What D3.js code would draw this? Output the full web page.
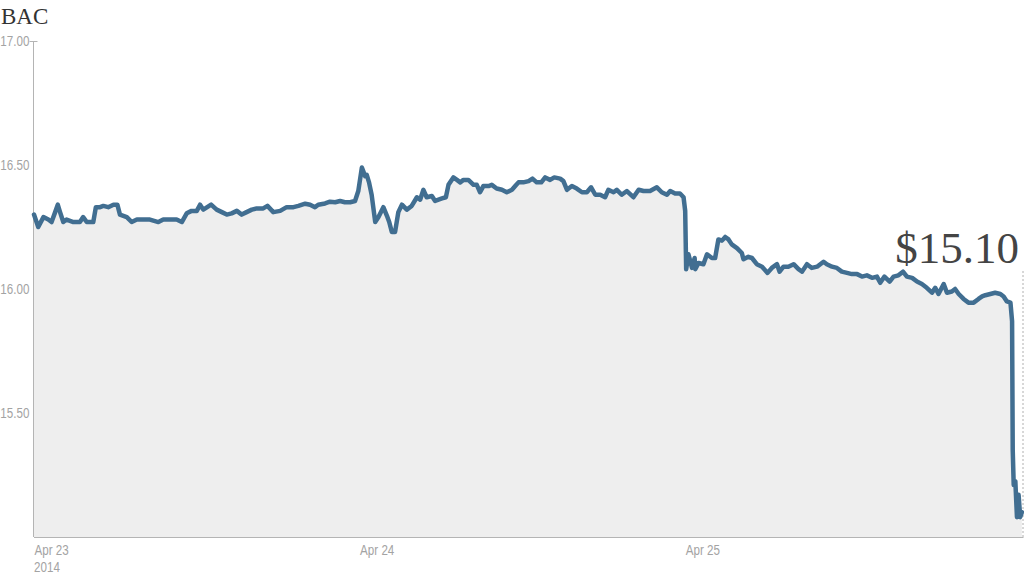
<!DOCTYPE html>
<html>
<head>
<meta charset="utf-8">
<script src="https://cdn.jsdelivr.net/npm/d3@7"></script>
<style>
  html, body { margin: 0; padding: 0; background: #fff; }
  svg { display: block; }
  .tick-label { font-family: "Liberation Sans", Arial, sans-serif; font-size: 14px; fill: #a3a3a3; }
</style>
</head>
<body>
<svg id="chart" width="1024" height="576"></svg>
<script>
// ---- Data ----
const ticker = "BAC";
const lastPriceLabel = "$15.10";
// time in trading days since Apr 23 open
const times = [
  0.000,0.013,0.029,0.044,0.054,0.065,0.073,0.080,0.090,0.100,0.121,0.141,0.151,0.162,0.182,0.190,0.203,0.213,0.228,0.244,
  0.256,0.264,0.285,0.300,0.316,0.336,0.356,0.382,0.397,0.418,0.438,0.454,0.469,0.484,0.500,0.510,0.520,0.544,0.561,0.577,
  0.592,0.607,0.623,0.638,0.653,0.669,0.684,0.704,0.717,0.735,0.756,0.776,0.797,0.812,0.833,0.848,0.863,0.873,0.894,0.909,
  0.925,0.940,0.955,0.971,0.986,0.996,1.007,1.017,1.022,1.029,1.037,1.048,1.058,1.073,1.084,1.091,1.099,1.109,1.119,1.130,
  1.145,1.160,1.176,1.186,1.196,1.206,1.222,1.232,1.253,1.265,1.273,1.288,1.299,1.309,1.319,1.334,1.350,1.360,1.370,1.380,
  1.396,1.406,1.421,1.437,1.452,1.468,1.478,1.488,1.503,1.519,1.531,1.544,1.558,1.570,1.585,1.598,1.616,1.626,1.637,1.652,
  1.667,1.683,1.698,1.711,1.724,1.739,1.754,1.764,1.780,1.790,1.805,1.821,1.841,1.857,1.872,1.892,1.913,1.928,1.944,1.954,
  1.969,1.984,1.995,2.000,2.003,2.010,2.021,2.029,2.031,2.041,2.056,2.067,2.082,2.092,2.102,2.113,2.123,2.133,2.143,2.159,
  2.174,2.179,2.194,2.205,2.220,2.236,2.253,2.266,2.282,2.290,2.302,2.317,2.333,2.348,2.359,2.374,2.389,2.405,2.415,2.425,
  2.435,2.451,2.466,2.481,2.497,2.512,2.528,2.543,2.558,2.574,2.589,2.599,2.612,2.628,2.640,2.655,2.669,2.681,2.697,2.712,
  2.727,2.742,2.758,2.768,2.778,2.794,2.804,2.819,2.829,2.840,2.855,2.870,2.886,2.901,2.912,2.922,2.937,2.952,2.968,2.978,
  2.988,2.999,3.004,3.006,3.009,3.014,3.019,3.024,3.029,3.034
];
const prices = [
  16.30,16.25,16.29,16.28,16.27,16.31,16.34,16.31,16.27,16.28,16.27,16.27,16.29,16.27,16.27,16.33,16.33,16.335,16.33,16.34,
  16.34,16.30,16.29,16.27,16.28,16.28,16.28,16.27,16.28,16.28,16.28,16.27,16.305,16.315,16.315,16.34,16.32,16.34,16.32,16.31,
  16.30,16.305,16.315,16.30,16.31,16.32,16.325,16.325,16.335,16.31,16.315,16.33,16.33,16.335,16.344,16.34,16.33,16.34,16.345,16.352,
  16.35,16.355,16.35,16.35,16.355,16.395,16.49,16.455,16.46,16.43,16.38,16.27,16.29,16.33,16.295,16.27,16.23,16.23,16.31,16.34,
  16.32,16.335,16.37,16.36,16.40,16.37,16.375,16.355,16.365,16.37,16.42,16.45,16.44,16.43,16.44,16.44,16.42,16.42,16.39,16.415,
  16.415,16.42,16.405,16.40,16.39,16.40,16.415,16.43,16.43,16.435,16.445,16.43,16.43,16.45,16.44,16.45,16.445,16.435,16.40,16.415,
  16.405,16.39,16.39,16.41,16.38,16.38,16.37,16.40,16.39,16.40,16.38,16.395,16.37,16.40,16.395,16.395,16.41,16.39,16.38,16.395,
  16.385,16.385,16.37,16.315,16.08,16.14,16.085,16.125,16.08,16.105,16.10,16.14,16.125,16.125,16.20,16.195,16.21,16.20,16.18,16.165,
  16.145,16.12,16.13,16.125,16.10,16.09,16.065,16.085,16.10,16.07,16.09,16.09,16.10,16.08,16.07,16.10,16.085,16.09,16.10,16.11,
  16.10,16.09,16.085,16.07,16.065,16.06,16.06,16.05,16.055,16.045,16.05,16.025,16.05,16.03,16.05,16.055,16.07,16.05,16.045,16.03,
  16.02,16.005,15.985,16.005,15.98,16.02,15.985,15.99,16.00,15.98,15.96,15.945,15.945,15.96,15.97,15.975,15.98,15.985,15.98,15.97,
  15.95,15.945,15.87,15.35,15.21,15.225,15.08,15.17,15.08,15.10
];
const xTickValues = [0, 1, 2];
const xTickLabels = ["Apr 23", "Apr 24", "Apr 25"];
const xTickYear = "2014";
const yTickValues = [17.0, 16.5, 16.0, 15.5];
const xDomain = [0, 3.036];
const yDomain = [15.0, 17.0];

// ---- Layout ----
const svg = d3.select("#chart");
const mLeft = 34, mRight = 1022.5, mTop = 41, mBottom = 537;
const condense = "scale(0.83,1)";

const x = d3.scaleLinear().domain(xDomain).range([mLeft, mRight]);
const y = d3.scaleLinear().domain(yDomain).range([mBottom, mTop]);

const data = times.map((t, i) => ({ t, p: prices[i] }));

// Area fill
const area = d3.area().x(d => x(d.t)).y0(mBottom).y1(d => y(d.p)).curve(d3.curveLinear);
svg.append("path").datum(data).attr("d", area).attr("fill", "#eeeeee");

// Right dotted marker line
svg.append("line")
  .attr("x1", mRight + 0.5).attr("x2", mRight + 0.5)
  .attr("y1", 271).attr("y2", mBottom)
  .attr("stroke", "#b0b0b0").attr("stroke-width", 1).attr("stroke-dasharray", "2,2");

// Axes
const yAxis = d3.axisLeft(y).tickValues(yTickValues).tickSize(0).tickPadding(5)
  .tickFormat(d3.format(".2f"));
const gy = svg.append("g").attr("transform", `translate(${mLeft - 0.5},0)`).call(yAxis);
gy.select(".domain").remove();
gy.selectAll("text").attr("class", "tick-label").attr("font-family", null).attr("font-size", null).attr("fill", null)
  .attr("transform", condense);
gy.append("line").attr("x1", 0).attr("x2", 0).attr("y1", mTop).attr("y2", mBottom)
  .attr("stroke", "#b4b4b4").attr("stroke-width", 1);
gy.append("line").attr("x1", -4).attr("x2", 4).attr("y1", mTop + 0.5).attr("y2", mTop + 0.5)
  .attr("stroke", "#b4b4b4").attr("stroke-width", 1);

const xAxis = d3.axisBottom(x).tickValues(xTickValues).tickSize(0).tickPadding(8)
  .tickFormat((d, i) => xTickLabels[i]);
const gx = svg.append("g").attr("transform", `translate(0,${mBottom + 0.5})`).call(xAxis);
gx.select(".domain").remove();
gx.selectAll("text").attr("class", "tick-label").attr("font-family", null).attr("font-size", null).attr("fill", null)
  .attr("text-anchor", "start").attr("transform", condense);
gx.append("line").attr("x1", mLeft).attr("x2", mRight + 1).attr("y1", 0).attr("y2", 0)
  .attr("stroke", "#b4b4b4").attr("stroke-width", 1);
gx.append("text").attr("class", "tick-label")
  .attr("transform", `translate(${x(xTickValues[0])},34) ${condense}`)
  .attr("text-anchor", "start").text(xTickYear);

// Price line
const line = d3.line().x(d => x(d.t)).y(d => y(d.p)).curve(d3.curveLinear);
svg.append("path").datum(data).attr("d", line)
  .attr("fill", "none").attr("stroke", "#416e91").attr("stroke-width", 4.5)
  .attr("stroke-linejoin", "round").attr("stroke-linecap", "round");

// Title
svg.append("text").attr("x", 1).attr("y", 24)
  .attr("font-family", "'Liberation Serif', 'DejaVu Serif', serif").attr("font-size", 23)
  .attr("fill", "#333").text(ticker);

// Last price label
svg.append("text").attr("x", 1019).attr("y", 263).attr("text-anchor", "end")
  .attr("font-family", "'Liberation Serif', 'DejaVu Serif', serif").attr("font-size", 45)
  .attr("fill", "#444").text(lastPriceLabel);
</script>
</body>
</html>
